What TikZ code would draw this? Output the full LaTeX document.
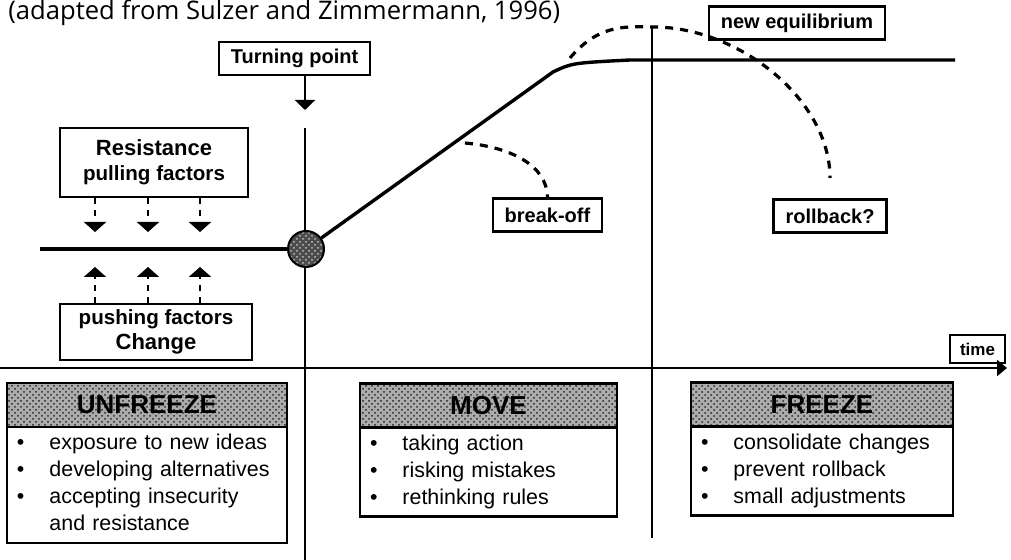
\documentclass[tikz,border=0pt]{standalone}
\usepackage{fontspec}
\setmainfont{Liberation Sans}
\newfontfamily\capfont{Open Sans}
\usetikzlibrary{positioning,arrows.meta,patterns}

\begin{document}
\begin{tikzpicture}[x=0.5pt,y=-0.5pt,
  lbl/.style={draw, line width=1.2pt, font=\bfseries\fontsize{10}{12}\selectfont, inner xsep=6pt, minimum height=16.5pt},
  fbox/.style={draw, line width=1.2pt, align=center, inner sep=2pt, font=\bfseries\fontsize{10.3}{12.5}\selectfont},
  curve/.style={line width=1.7pt},
  dashc/.style={line width=1.6pt, dash pattern=on 4pt off 3.5pt},
  pull/.style={line width=1.2pt, dash pattern=on 3pt off 3pt, -{Triangle[width=11pt,length=5pt]}},
  vline/.style={line width=1.2pt},
  head/.style={draw, line width=1.2pt, preaction={fill=gray!65}, pattern=crosshatch dots, pattern color=black!85, font=\bfseries\fontsize{13}{15}\selectfont, minimum height=22pt, outer sep=0pt},
  body/.style={draw, line width=1pt, align=left, font=\fontsize{10.7}{13.5}\selectfont, inner xsep=5pt, inner ysep=2pt, outer sep=0pt}]
  \clip (0,0) rectangle (1011,560);

  \node[anchor=base west, inner sep=0pt, font=\capfont\fontsize{12.8}{14}\selectfont] (CAP) at (8,20) {(adapted from Sulzer and Zimmermann, 1996)};

  \coordinate (L)   at (40,249);
  \coordinate (K)   at (553,72);
  \coordinate (Q)   at (955,60);
  \coordinate (V1)  at (305,128);
  \coordinate (V1e) at (305,560);
  \coordinate (V2)  at (652,28);
  \coordinate (V2e) at (652,538);
  \coordinate (A0)  at (0,368);
  \coordinate (A1)  at (1007,368);
  \coordinate (T1)  at (305,110);
  \coordinate (B0)  at (465,143);
  \coordinate (R0)  at (570,58);
  \coordinate (R1)  at (830,178);

  \node[lbl] (TP) at (294.5,58.5) {Turning point};
  \node[lbl] (NE) at (797,23) {new equilibrium};
  \node[lbl] (BO) at (547.5,215) {break-off};
  \node[lbl] (RB) at (830,216) {rollback?};
  \node[lbl, font=\bfseries\fontsize{8.5}{10}\selectfont, inner xsep=5pt, minimum height=14pt] (TI) at (977.5,349) {time};

  \node[fbox, minimum width=94pt, minimum height=34.5pt] (RES) at (154,162.5) {{\fontsize{11}{13}\selectfont Resistance}\\pulling factors};
  \node[fbox, minimum width=96pt, minimum height=28pt] (PUSH) at (156,332) {pushing factors\\{\fontsize{11}{13}\selectfont Change}};

  \draw[vline] (V1) -- (V1e);
  \draw[vline] (V2) -- (V2e);
  \draw[line width=1.2pt, -{Triangle[width=10pt,length=5pt]}] (TP.south -| T1) -- (T1);
  \draw[line width=1.2pt, -{Triangle[width=8pt,length=5pt]}] (A0) -- (A1);

  \node[circle, draw, line width=1pt, minimum size=18pt, inner sep=0pt, preaction={fill=black!70}, pattern=crosshatch dots, pattern color=white!75!black] (C) at (306,249) {};
  \draw[curve] (L) -- (C);
  \draw[curve] (C) -- (K) .. controls (572,63) .. (630,60) -- (Q);

  \draw[dashc] (B0) .. controls (510,147) and (547,165) .. (BO.north);
  \draw[dashc] (R0) .. controls (600,22) and (630,27) .. (655,27) .. controls (740,28) and (830,100) .. (R1);

  \foreach \x in {95,148,200} {
    \draw[pull] (RES.south -| \x,0) -- (\x,232);
    \draw[pull] (PUSH.north -| \x,0) -- (\x,267);
  }

  \node[head, minimum width=140pt] (U) at (147,405) {UNFREEZE};
  \node[body, text width=130pt, minimum height=58pt, below=0pt of U] (UB) {\begin{tabular}{@{}l@{\hspace{12.5pt}}l@{}}
    \textbullet & exposure to new ideas\\
    \textbullet & developing alternatives\\
    \textbullet & accepting insecurity\\
                & and resistance
  \end{tabular}};
  \node[head, minimum width=128.5pt] (M) at (488.5,405.5) {MOVE};
  \node[body, text width=118.5pt, minimum height=42.5pt, below=0pt of M] (MB) {\begin{tabular}{@{}l@{\hspace{12.5pt}}l@{}}
    \textbullet & taking action\\
    \textbullet & risking mistakes\\
    \textbullet & rethinking rules
  \end{tabular}};
  \node[head, minimum width=131pt] (F) at (822,404.5) {FREEZE};
  \node[body, text width=121pt, minimum height=43.5pt, below=0pt of F] (FB) {\begin{tabular}{@{}l@{\hspace{12.5pt}}l@{}}
    \textbullet & consolidate changes\\
    \textbullet & prevent rollback\\
    \textbullet & small adjustments
  \end{tabular}};
\end{tikzpicture}
\end{document}
